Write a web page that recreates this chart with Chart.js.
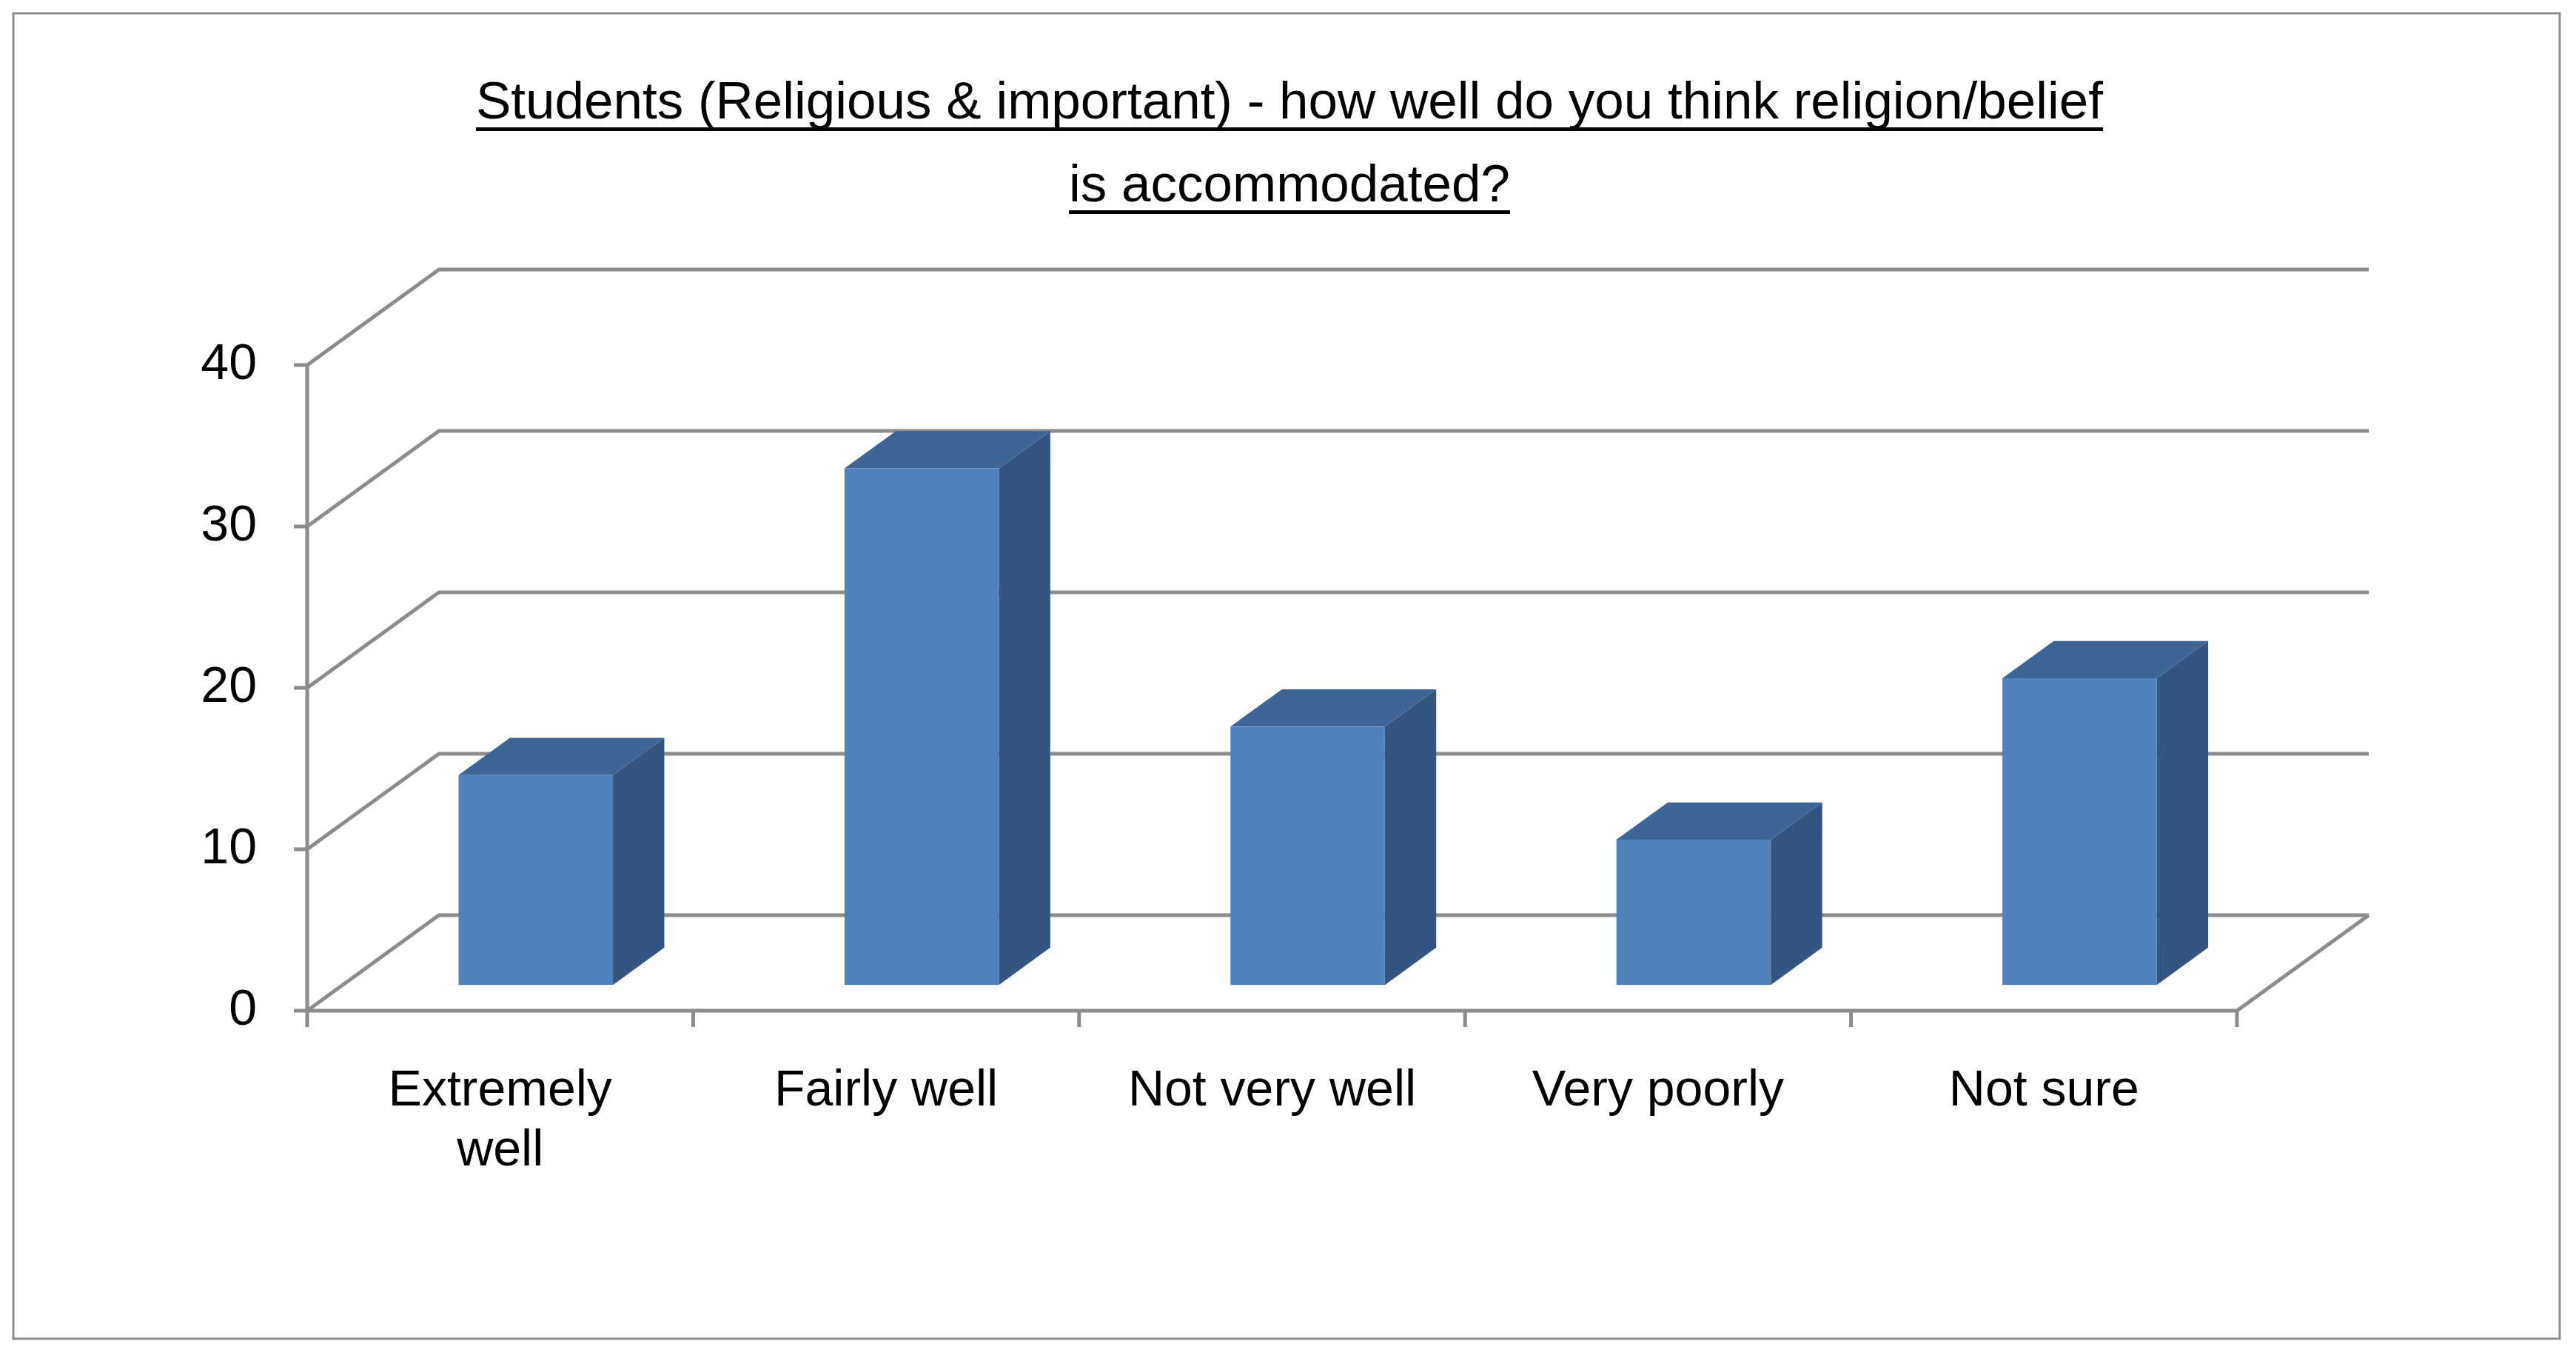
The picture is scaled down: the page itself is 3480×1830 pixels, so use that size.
<!DOCTYPE html>
<html><head>
<script src="https://cdn.jsdelivr.net/npm/chart.js@4"></script>
<style>body{margin:0;background:#fff}canvas{display:block}</style>
</head><body>
<div style="width:3480px;height:1830px;position:relative"><canvas id="c"></canvas></div>
<script>
const categories = [['Extremely', 'well'], 'Fairly well', 'Not very well', 'Very poorly', 'Not sure'];
const values = [13, 32, 16, 9, 19];
const titleLines = ['Students (Religious & important) - how well do you think religion/belief', 'is accommodated?'];

const DX = 178, DY = 129;           // depth of the 3D box
const gridColor = '#8c8c8c';
const fontFam = "'Liberation Sans', Arial, sans-serif";

const threeD = {
    id: 'threeD',
    beforeDatasetsDraw(chart) {
        const ctx = chart.ctx, a = chart.chartArea, y = chart.scales.y, x = chart.scales.x;
        ctx.save();
        ctx.strokeStyle = gridColor;
        ctx.lineWidth = 5;
        // back wall grid + diagonals
        y.ticks.forEach(t => {
            const py = y.getPixelForValue(t.value);
            ctx.beginPath();
            ctx.moveTo(a.left, py);
            ctx.lineTo(a.left + DX, py - DY);
            ctx.lineTo(a.right + DX, py - DY);
            ctx.stroke();
            // tick mark
            ctx.beginPath();
            ctx.moveTo(a.left - 18, py);
            ctx.lineTo(a.left, py);
            ctx.stroke();
        });
        // floor
        const y0 = y.getPixelForValue(0);
        ctx.beginPath();
        ctx.moveTo(a.left, y0);
        ctx.lineTo(a.right, y0);
        ctx.lineTo(a.right + DX, y0 - DY);
        ctx.stroke();
        // front axis line
        ctx.beginPath();
        ctx.moveTo(a.left, y.getPixelForValue(40));
        ctx.lineTo(a.left, y0);
        ctx.stroke();
        // x tick marks at category borders
        const w = (a.right - a.left) / categories.length;
        for (let i = 0; i <= categories.length; i++) {
            ctx.beginPath();
            ctx.moveTo(a.left + i * w, y0);
            ctx.lineTo(a.left + i * w, y0 + 22);
            ctx.stroke();
        }
        ctx.restore();
    },
    afterDatasetsDraw(chart) {
        const ctx = chart.ctx;
        const f = 0.27, b = 0.66;
        chart.getDatasetMeta(0).data.forEach(el => {
            const ox = DX * f, oy = DY * f;
            const l = el.x - el.width / 2 + ox, r = el.x + el.width / 2 + ox;
            const t = el.y - oy, bt = el.base - oy;
            const sx = DX * (b - f), sy = DY * (b - f);
            ctx.fillStyle = '#34557f';
            ctx.beginPath();
            ctx.moveTo(r, t); ctx.lineTo(r + sx, t - sy); ctx.lineTo(r + sx, bt - sy); ctx.lineTo(r, bt);
            ctx.closePath(); ctx.fill();
            ctx.fillStyle = '#3d6697';
            ctx.beginPath();
            ctx.moveTo(l, t); ctx.lineTo(l + sx, t - sy); ctx.lineTo(r + sx, t - sy); ctx.lineTo(r, t);
            ctx.closePath(); ctx.fill();
            ctx.fillStyle = '#4f81bd';
            ctx.fillRect(l, t, r - l, bt - t);
        });
    },
    afterDraw(chart) {
        const ctx = chart.ctx;
        ctx.save();
        ctx.strokeStyle = '#8c8c8c';
        ctx.lineWidth = 3;
        ctx.strokeRect(18, 18, 3440, 1790);
        ctx.fillStyle = '#000';
        ctx.font = '71px ' + fontFam;
        ctx.textAlign = 'center';
        ctx.textBaseline = 'alphabetic';
        const cx = 1742;
        [160, 272].forEach((by, i) => {
            ctx.fillText(titleLines[i], cx, by);
            const w = ctx.measureText(titleLines[i]).width;
            ctx.fillRect(cx - w / 2, by + 12, w, 5);
        });
        ctx.restore();
    }
};

new Chart(document.getElementById('c'), {
    type: 'bar',
    data: {
        labels: categories,
        datasets: [{
            data: values,
            backgroundColor: 'rgba(0,0,0,0)',
            barPercentage: 0.4,
            categoryPercentage: 1
        }]
    },
    options: {
        responsive: true,
        maintainAspectRatio: false,
        devicePixelRatio: 1,
        animation: false,
        layout: { padding: { top: 493, right: 458, left: 0, bottom: 0 } },
        plugins: { legend: { display: false }, tooltip: { enabled: false } },
        scales: {
            x: {
                grid: { display: false },
                border: { display: false },
                ticks: { color: '#000', font: { size: 68, family: fontFam }, padding: 60, maxRotation: 0 },
                afterFit(s) { s.height = 1830 - 1365; }
            },
            y: {
                min: 0, max: 40,
                grid: { display: false },
                border: { display: false },
                ticks: { stepSize: 10, color: '#000', font: { size: 68, family: fontFam }, padding: 60 },
                afterFit(s) { s.width = 415; }
            }
        }
    },
    plugins: [threeD]
});
</script>
</body></html>
